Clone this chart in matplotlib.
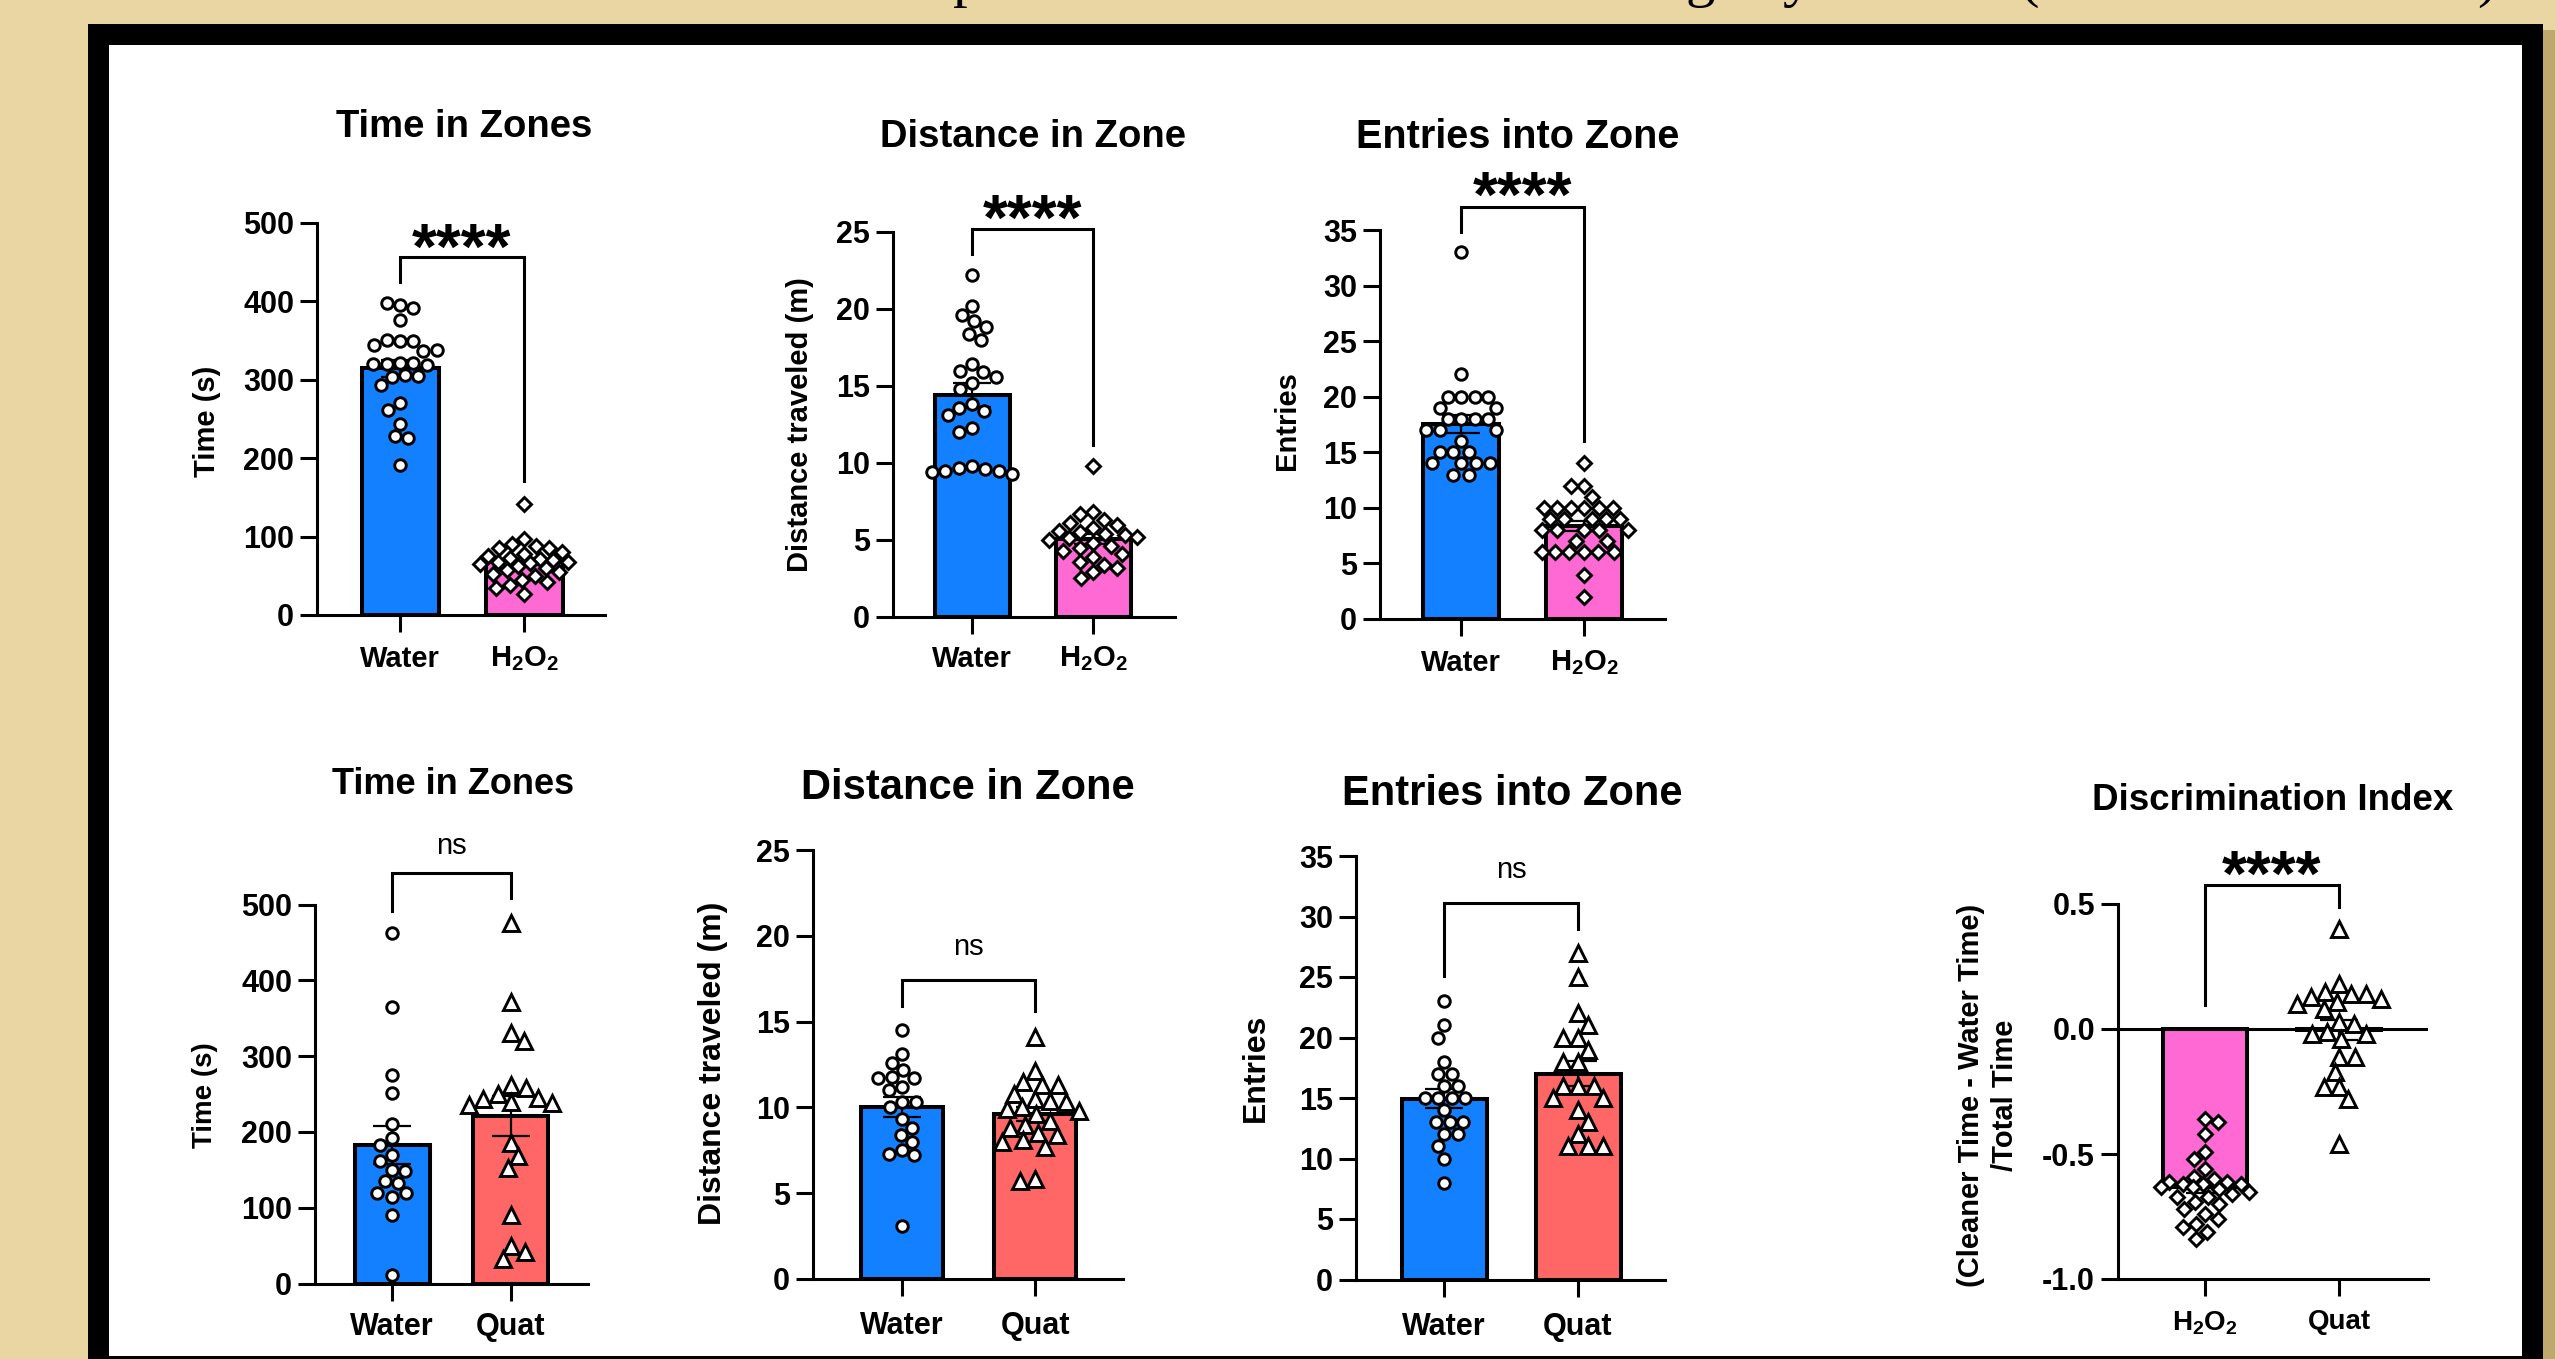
import numpy as np
import matplotlib
matplotlib.use('Agg')
import matplotlib.pyplot as plt
from matplotlib.patches import Rectangle

W, H = 2556, 1359
DPI = 100
plt.rcParams['font.family'] = ['Liberation Sans', 'DejaVu Sans']
plt.rcParams['mathtext.fontset'] = 'custom'
plt.rcParams['mathtext.rm'] = 'Liberation Sans'
plt.rcParams['mathtext.bf'] = 'Liberation Sans:bold'
plt.rcParams['mathtext.it'] = 'Liberation Sans:italic'

# ------------------------------------------------------------------ data
H2O2 = r'$\mathregular{H_2O_2}$'
groups_h2o2 = ['Water', H2O2]
groups_quat = ['Water', 'Quat']
groups_di = [H2O2, 'Quat']

titles = ['Time in Zones', 'Distance in Zone', 'Entries into Zone',
          'Time in Zones', 'Distance in Zone', 'Entries into Zone',
          'Discrimination Index']
ylabels = ['Time (s)', 'Distance traveled (m)', 'Entries',
           'Time (s)', 'Distance traveled (m)', 'Entries',
           '(Cleaner Time - Water Time)\n/Total Time']

time_water_a = [395, 392, 398, 376, 350, 349, 351, 344, 337, 338, 322, 321, 320, 320,
                319, 306, 305, 304, 293, 271, 262, 244, 228, 226, 191]
time_h2o2 = [142, 97, 90, 88, 86, 85, 80, 78, 75, 73, 72, 70, 68, 67, 66, 65, 62, 60,
             58, 55, 52, 50, 45, 42, 38, 35, 27]
dist_water_a = [22.2, 20.2, 19.6, 19.2, 18.8, 18.4, 18.0, 16.4, 16.0, 15.9, 15.6, 15.2,
                14.8, 13.8, 13.6, 13.4, 13.1, 12.3, 12.0, 9.8, 9.7, 9.6, 9.5, 9.5, 9.4, 9.3]
dist_h2o2 = [9.8, 6.8, 6.7, 6.3, 6.1, 6.0, 5.8, 5.6, 5.5, 5.4, 5.3, 5.2, 5.1, 5.0, 4.8,
             4.6, 4.5, 4.3, 4.1, 3.9, 3.6, 3.4, 3.2, 2.9, 2.5]
entries_water_a = [33, 22, 20, 20, 20, 20, 19, 19, 18, 18, 18, 18, 17, 17, 17, 16, 15,
                   15, 15, 14, 14, 14, 14, 13, 13]
entries_h2o2 = [14, 12, 12, 11, 10, 10, 10, 10, 10, 10, 9, 9, 9, 9, 9, 8, 8, 8, 8, 8,
                7, 7, 6, 6, 6, 6, 6, 6, 4, 2]
time_water_b = [463, 365, 275, 251, 211, 192, 183, 169, 161, 150, 148, 135, 133, 120,
                119, 114, 90, 11]
time_quat = [476, 371, 330, 320, 262, 258, 250, 245, 243, 240, 238, 236, 186, 168, 152,
             90, 50, 42, 32]
dist_water_b = [14.5, 13.1, 12.6, 12.2, 11.8, 11.7, 11.7, 11.2, 11.0, 10.3, 10.3, 10.0,
                9.3, 8.8, 8.4, 8.0, 7.5, 7.3, 7.2, 3.1]
dist_quat = [14.1, 12.1, 11.5, 11.3, 11.3, 10.8, 10.5, 10.4, 10.3, 10.0, 9.9, 9.8, 9.6,
             9.2, 9.0, 8.8, 8.5, 8.4, 8.1, 8.0, 7.7, 5.8, 5.7]
entries_water_b = [23, 21, 20, 18, 17, 17, 16, 16, 15, 15, 15, 15, 14, 13, 13, 13, 12,
                   12, 11, 10, 8]
entries_quat = [27, 25, 22, 21, 20, 20, 19, 18, 18, 16, 16, 16, 15, 15, 14, 13, 12, 11,
                11, 11]
di_h2o2 = [-0.36, -0.37, -0.42, -0.49, -0.52, -0.56, -0.59, -0.60, -0.61, -0.62, -0.61,
           -0.62, -0.62, -0.63, -0.63, -0.64, -0.65, -0.66, -0.67, -0.67, -0.69, -0.70,
           -0.72, -0.74, -0.76, -0.78, -0.79, -0.81, -0.84]
di_quat = [0.40, 0.18, 0.15, 0.14, 0.14, 0.13, 0.12, 0.11, 0.10, 0.08, 0.03, 0.02,
           -0.01, -0.02, -0.02, -0.04, -0.11, -0.11, -0.17, -0.23, -0.23, -0.28, -0.46]

# significance: label, bracket top, left leg end, right leg end, text centre
sig_labels = ['****', '****', '****', 'ns', 'ns', 'ns', '****']
sig_top = [457, 25.2, 37.1, 541, 17.4, 31.1, 0.576]
sig_left = [425, 23.6, 34.8, 492, 15.9, 25.05, 0.096]
sig_right = [171, 11.2, 16.0, 508, 15.6, 29.0, 0.487]
sig_text = [489, 26.9, 39.5, 577, 19.3, 33.8, 0.68]

y_limits = [(0, 500), (0, 25), (0, 35), (0, 500), (0, 25), (0, 35), (-1.0, 0.5)]
y_steps = [100, 5, 5, 100, 5, 5, 0.5]

# ------------------------------------------------------------------ style
BLUE = '#1380FF'
PINK = '#FF69D4'
SALMON = '#FF6666'
BG = '#E9D6A2'

panels = [
    dict(data=[time_water_a, time_h2o2], groups=groups_h2o2, colors=[BLUE, PINK], markers=['o', 'D'],
         spine=317, right=605, top=223, bot=615, c0=400, c1=524, bar=77,
         title=(464, 123, 27.5), ylab=(207, 421, 21), xlab_y=655, xfs=21),
    dict(data=[dist_water_a, dist_h2o2], groups=groups_h2o2, colors=[BLUE, PINK], markers=['o', 'D'],
         spine=893, right=1175, top=232, bot=617, c0=972, c1=1093, bar=75,
         title=(1033, 133, 27.5), ylab=(800, 425, 21), xlab_y=655, xfs=21),
    dict(data=[entries_water_a, entries_h2o2], groups=groups_h2o2, colors=[BLUE, PINK], markers=['o', 'D'],
         spine=1380, right=1665, top=230, bot=619, c0=1461, c1=1584, bar=76,
         title=(1518, 134, 28.5), ylab=(1287, 421, 21), xlab_y=659, xfs=21),
    dict(data=[time_water_b, time_quat], groups=groups_quat, colors=[BLUE, SALMON], markers=['o', '^'],
         spine=315, right=588, top=904.5, bot=1283.5, c0=392, c1=510.5, bar=75,
         title=(453, 781, 26), ylab=(205.5, 1095, 20), xlab_y=1323, xfs=22),
    dict(data=[dist_water_b, dist_quat], groups=groups_quat, colors=[BLUE, SALMON], markers=['o', '^'],
         spine=813, right=1123, top=850, bot=1279, c0=902, c1=1035, bar=82,
         title=(968, 784, 30), ylab=(713, 1063, 23), xlab_y=1322, xfs=22),
    dict(data=[entries_water_b, entries_quat], groups=groups_quat, colors=[BLUE, SALMON], markers=['o', '^'],
         spine=1356, right=1665, top=856, bot=1279.5, c0=1444, c1=1578, bar=85,
         title=(1512, 790, 30), ylab=(1256, 1068, 23), xlab_y=1323, xfs=22),
    dict(data=[di_h2o2, di_quat], groups=groups_di, colors=[PINK, SALMON], markers=['D', '^'],
         spine=2118, right=2428, top=904, bot=1279, c0=2205, c1=2339, bar=84,
         title=(2273, 797, 26.5), ylab=(1988, 1095, 21), xlab_y=1319, xfs=20),
]

SPINE_LW = 2.2
BAR_LW = 2.9
TICK_LEN_PX = 17
TICK_FS = 22
PT2PX = DPI / 72.0

marker_size = {'o': 8.3, 'D': 7.2, '^': 11.5}
swarm_d = {'o': 13.5, 'D': 13.5, '^': 15.5}
MEW = 2.1
SWARM_HALF = 44.0


def swarm_offsets(ypx, d, half):
    xs = np.zeros(len(ypx))
    placed = []
    grid = np.linspace(-half, half, 89)
    for i in range(len(ypx)):
        y = ypx[i]
        intervals = []
        near = []
        for (px, py) in placed:
            dy = abs(py - y)
            if dy < d:
                h = np.sqrt(d * d - dy * dy)
                intervals.append((px - h, px + h))
                near.append((px, py))
        cands = [0.0] + [a for a, b in intervals] + [b for a, b in intervals]
        cands = [c for c in cands if abs(c) <= half + 1e-6]
        cands.sort(key=lambda c: (round(abs(c), 6), -c if i % 2 else c))
        chosen = None
        for c in cands:
            if all(not (a + 1e-6 < c < b - 1e-6) for a, b in intervals):
                chosen = c
                break
        if chosen is None:
            best, bestd = 0.0, -1
            for c in grid:
                md = min(np.hypot(c - px, y - py) for px, py in near)
                if md > bestd + 1e-9:
                    best, bestd = c, md
            chosen = best
        xs[i] = chosen
        placed.append((chosen, y))
    return xs


fig = plt.figure(figsize=(W / DPI, H / DPI), dpi=DPI)
fig.patch.set_facecolor(BG)


def fx(x):
    return x / W


def fy(y):
    return 1 - y / H


# frame (drawn below the axes)
for (x0, y0, x1, y1, col) in [(2543, 30, 2555, 1359, '#BFA86E'),
                              (88, 24, 2543, 1362, 'black'),
                              (109, 45, 2522, 1356, 'white')]:
    fig.patches.append(Rectangle((fx(x0), fy(y1)), (x1 - x0) / W, (y1 - y0) / H,
                                 transform=fig.transFigure, facecolor=col,
                                 edgecolor='none', zorder=-10))

# cut-off heading above the frame (only the descending strokes are visible)
for ch, xc in [('p', 968), ('g', 1700), ('y', 1797), ('(', 2029), (')', 2487)]:
    fig.text(fx(xc), fy(-4), ch, ha='center', va='baseline', fontsize=42,
             family=['Liberation Serif', 'DejaVu Serif'], color='black')

for k, p in enumerate(panels):
    sp = p['c1'] - p['c0']
    ax = fig.add_axes([fx(p['spine']), fy(p['bot']), (p['right'] - p['spine']) / W,
                       (p['bot'] - p['top']) / H])
    ax.set_zorder(1)
    ax.patch.set_alpha(0)
    ymin, ymax = y_limits[k]
    ax.set_xlim(-(p['c0'] - p['spine']) / sp, 1 + (p['right'] - p['c1']) / sp)
    ax.set_ylim(ymin, ymax)
    for s in ['top', 'right']:
        ax.spines[s].set_visible(False)
    for s in ['left', 'bottom']:
        ax.spines[s].set_linewidth(SPINE_LW)
        ax.spines[s].set_capstyle('projecting')

    vals = [np.asarray(v, float) for v in p['data']]
    means = [v.mean() for v in vals]
    sems = [v.std(ddof=1) / np.sqrt(len(v)) for v in vals]
    bw = p['bar'] / sp
    ax.bar([0, 1], means, width=bw, color=p['colors'], edgecolor='black',
           linewidth=BAR_LW, zorder=2)
    if ymin < 0:
        ax.axhline(0, color='black', lw=SPINE_LW, zorder=2.5)
    ax.errorbar([0, 1], means, yerr=sems, fmt='none', ecolor='black', elinewidth=1.6,
                capsize=14, capthick=1.6, zorder=3)

    pxpu = (p['bot'] - p['top']) / (ymax - ymin)
    for g in range(2):
        ypx = (vals[g] - ymin) * pxpu
        m = p['markers'][g]
        offs = swarm_offsets(ypx, swarm_d[m], SWARM_HALF) / sp
        ax.plot(g + offs, vals[g], linestyle='none', marker=m, ms=marker_size[m],
                mfc='white', mec='black', mew=MEW, zorder=4, clip_on=False)

    # significance bracket
    ax.plot([0, 0, 1, 1], [sig_left[k], sig_top[k], sig_top[k], sig_right[k]],
            color='black', lw=SPINE_LW, clip_on=False, zorder=5, solid_joinstyle='miter')
    if sig_labels[k] == 'ns':
        fs = 21
        ax.annotate('ns', xy=(0.5, sig_text[k]), xytext=(0, -0.26 * fs), textcoords='offset points',
                    ha='center', va='baseline', fontsize=fs, annotation_clip=False)
    else:
        fs = 46
        ax.annotate('****', xy=(0.5, sig_text[k]), xytext=(0, -0.575 * fs), textcoords='offset points',
                    ha='center', va='baseline', fontsize=fs, fontweight='bold', annotation_clip=False)

    # ticks
    step = y_steps[k]
    ticks = np.arange(ymin, ymax + step / 2, step)
    ax.set_yticks(ticks)
    if k == 6:
        ax.set_yticklabels(['%.1f' % t for t in ticks])
    else:
        ax.set_yticklabels(['%d' % round(t) for t in ticks])
    ax.set_xticks([0, 1])
    ax.set_xticklabels(p['groups'])
    ax.tick_params(axis='both', length=TICK_LEN_PX / PT2PX, width=SPINE_LW, direction='out',
                   color='black')
    ax.tick_params(axis='y', pad=6 / PT2PX, labelsize=TICK_FS)
    em = p['xfs'] * PT2PX
    pad_px = p['xlab_y'] - 0.358 * em - (p['bot'] + TICK_LEN_PX)
    ax.tick_params(axis='x', pad=pad_px / PT2PX, labelsize=p['xfs'])
    for lab in ax.get_xticklabels() + ax.get_yticklabels():
        lab.set_fontweight('bold')

    # title and axis title
    tx, ty, tfs = p['title']
    fig.text(fx(tx), fy(ty + 0.358 * tfs * PT2PX), titles[k], ha='center', va='baseline',
             fontsize=tfs, fontweight='bold')
    lx, ly, lfs = p['ylab']
    fig.text(fx(lx), fy(ly), ylabels[k], rotation=90, ha='center', va='center',
             fontsize=lfs, fontweight='bold', multialignment='center', linespacing=1.25)

fig.savefig('out.png', dpi=DPI, facecolor=fig.get_facecolor())
